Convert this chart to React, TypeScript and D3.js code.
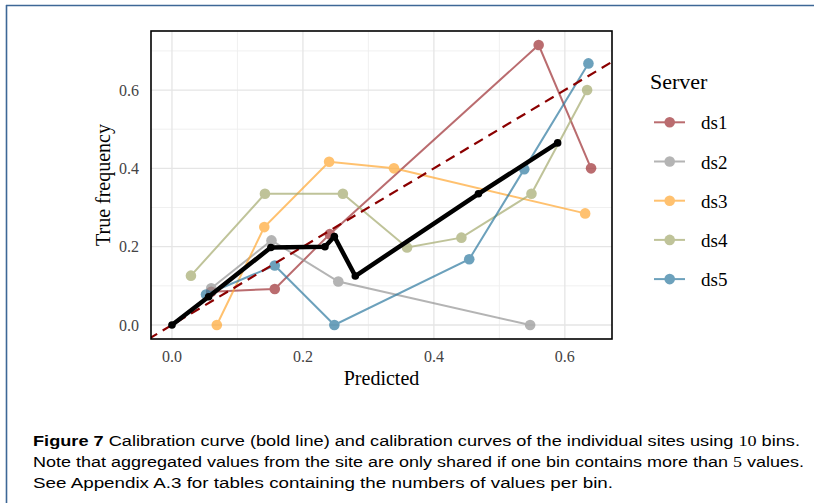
import React from 'react';
import * as d3 from 'd3';

// calibration points per server, [predicted, true frequency]
const ds1 = [[0.06, 0.085], [0.157, 0.092], [0.241, 0.232], [0.56, 0.715], [0.64, 0.4]];
const ds2 = [[0.06, 0.094], [0.152, 0.216], [0.254, 0.111], [0.547, 0.0]];
const ds3 = [[0.0685, 0.0], [0.141, 0.25], [0.24, 0.417], [0.339, 0.4], [0.631, 0.285]];
const ds4 = [[0.029, 0.126], [0.142, 0.335], [0.261, 0.335], [0.359, 0.198], [0.442, 0.223], [0.549, 0.335], [0.634, 0.6]];
const ds5 = [[0.052, 0.078], [0.157, 0.152], [0.248, 0.0], [0.454, 0.168], [0.538, 0.398], [0.636, 0.668]];
// aggregated calibration curve (bold)
const total = [[0, 0], [0.056, 0.072], [0.151, 0.198], [0.2336, 0.2], [0.248, 0.226], [0.28, 0.125], [0.468, 0.335], [0.589, 0.465]];

const serverNames = ['ds1', 'ds2', 'ds3', 'ds4', 'ds5'];
const serverColors = ['#9e2f33', '#959595', '#ffa833', '#a5ab6f', '#2f7aa0'];
const majorTicks = [0, 0.2, 0.4, 0.6];
const minorX = [0.1, 0.3, 0.5];
const minorY = [0.1, 0.3, 0.5, 0.7];

const caption1 = 'Calibration curve (bold line) and calibration curves of the individual sites using ';
const caption2 = 'Note that aggregated values from the site are only shared if one bin contains more than ';
const caption3 = 'See Appendix A.3 for tables containing the numbers of values per bin.';

const serif = '"Liberation Serif", "DejaVu Serif", serif';
const sans = '"Liberation Sans", "DejaVu Sans", sans-serif';

export default function App() {
    const series = [ds1, ds2, ds3, ds4, ds5];
    const all = series.concat([total]).flat();
    const margin = {l: 151, r: 612, t: 31, b: 339};

    // ggplot-style 5% expansion
    const xExt = d3.extent(all, d => d[0]) as [number, number];
    const yExt = d3.extent(all, d => d[1]) as [number, number];
    const xPad = (xExt[1] - xExt[0]) * 0.05;
    const yPad = (yExt[1] - yExt[0]) * 0.05;

    const x = d3.scaleLinear().domain([xExt[0] - xPad, xExt[1] + xPad]).range([margin.l, margin.r]);
    const y = d3.scaleLinear().domain([yExt[0] - yPad, yExt[1] + yPad]).range([margin.b, margin.t]);

    const line = d3.line<number[]>().x(d => x(d[0])).y(d => y(d[1]));

    const lo = Math.min(x.domain()[0], y.domain()[0]);
    const hi = Math.max(x.domain()[1], y.domain()[1]);

    return (
        <div style={{position: 'absolute', left: 0, top: 0}}>
            <svg width={814} height={503} style={{display: 'block', background: '#fff'}}>
                <defs>
                    <clipPath id="panel">
                        <rect x={margin.l} y={margin.t} width={margin.r - margin.l} height={margin.b - margin.t}/>
                    </clipPath>
                </defs>
                {/* page frame */}
                <line x1={6} x2={814} y1={5.5} y2={5.5} stroke="#3d6796" strokeWidth={1.6}/>
                <line x1={6.5} x2={6.5} y1={5} y2={503} stroke="#3d6796" strokeWidth={1.6}/>

                {/* grid */}
                <g clipPath="url(#panel)">
                    {minorX.map(d => <line key={'mx' + d} x1={x(d)} x2={x(d)} y1={margin.t} y2={margin.b} stroke="#eeeeee" strokeWidth={0.9}/>)}
                    {minorY.map(d => <line key={'my' + d} x1={margin.l} x2={margin.r} y1={y(d)} y2={y(d)} stroke="#eeeeee" strokeWidth={0.9}/>)}
                    {majorTicks.map(d => <line key={'gx' + d} x1={x(d)} x2={x(d)} y1={margin.t} y2={margin.b} stroke="#e5e5e5" strokeWidth={1.3}/>)}
                    {majorTicks.map(d => <line key={'gy' + d} x1={margin.l} x2={margin.r} y1={y(d)} y2={y(d)} stroke="#e5e5e5" strokeWidth={1.3}/>)}

                    {series.map((s, i) => (
                        <g key={serverNames[i]} opacity={0.7}>
                            <path d={line(s) || ''} fill="none" stroke={serverColors[i]} strokeWidth={2}/>
                            {s.map((d, j) => <circle key={j} cx={x(d[0])} cy={y(d[1])} r={5.3} fill={serverColors[i]}/>)}
                        </g>
                    ))}

                    <line x1={x(lo)} y1={y(lo)} x2={x(hi)} y2={y(hi)} stroke="#8b0000" strokeWidth={2.2} strokeDasharray="10 6.5"/>

                    <path d={line(total) || ''} fill="none" stroke="#000" strokeWidth={4.5} strokeLinejoin="round"/>
                    {total.map((d, j) => <circle key={j} cx={x(d[0])} cy={y(d[1])} r={3.8} fill="#000"/>)}
                </g>
                <rect x={margin.l} y={margin.t} width={margin.r - margin.l} height={margin.b - margin.t} fill="none" stroke="#000" strokeWidth={1.6}/>

                {/* axes labels */}
                <g fontFamily={serif} fontSize={16} fill="#444">
                    {majorTicks.map(d => <text key={'xt' + d} x={x(d)} y={362} textAnchor="middle">{d3.format('.1f')(d)}</text>)}
                    {majorTicks.map(d => <text key={'yt' + d} x={139} y={y(d) + 5.5} textAnchor="end">{d3.format('.1f')(d)}</text>)}
                </g>
                <text x={(margin.l + margin.r) / 2} y={385} textAnchor="middle" fontFamily={serif} fontSize={20} fill="#000">Predicted</text>
                <text transform={`translate(109.5,${(margin.t + margin.b) / 2}) rotate(-90)`} textAnchor="middle" fontFamily={serif} fontSize={20} fill="#000">True frequency</text>

                {/* legend */}
                <text x={650} y={89} fontFamily={serif} fontSize={22} fill="#000">Server</text>
                {serverNames.map((n, i) => {
                    const cy = 122.3 + i * 39.2;
                    return (
                        <g key={n}>
                            <g opacity={0.7}>
                                <line x1={654} x2={685} y1={cy} y2={cy} stroke={serverColors[i]} strokeWidth={2}/>
                                <circle cx={669.7} cy={cy} r={5.3} fill={serverColors[i]}/>
                            </g>
                            <text x={701} y={cy + 7} fontFamily={serif} fontSize={19} fill="#000">{n}</text>
                        </g>
                    );
                })}

                {/* caption */}
                <g fontFamily={sans} fontSize={15.5} fill="#000">
                    <text x={33} y={446} textLength={767} lengthAdjust="spacingAndGlyphs">
                        <tspan fontWeight="bold">Figure 7</tspan> {caption1}<tspan fontFamily={serif}>10</tspan> bins.
                    </text>
                    <text x={33} y={467} textLength={771} lengthAdjust="spacingAndGlyphs">
                        {caption2}<tspan fontFamily={serif}>5</tspan> values.
                    </text>
                    <text x={33} y={488} textLength={580} lengthAdjust="spacingAndGlyphs">{caption3}</text>
                </g>
            </svg>
        </div>
    );
}
